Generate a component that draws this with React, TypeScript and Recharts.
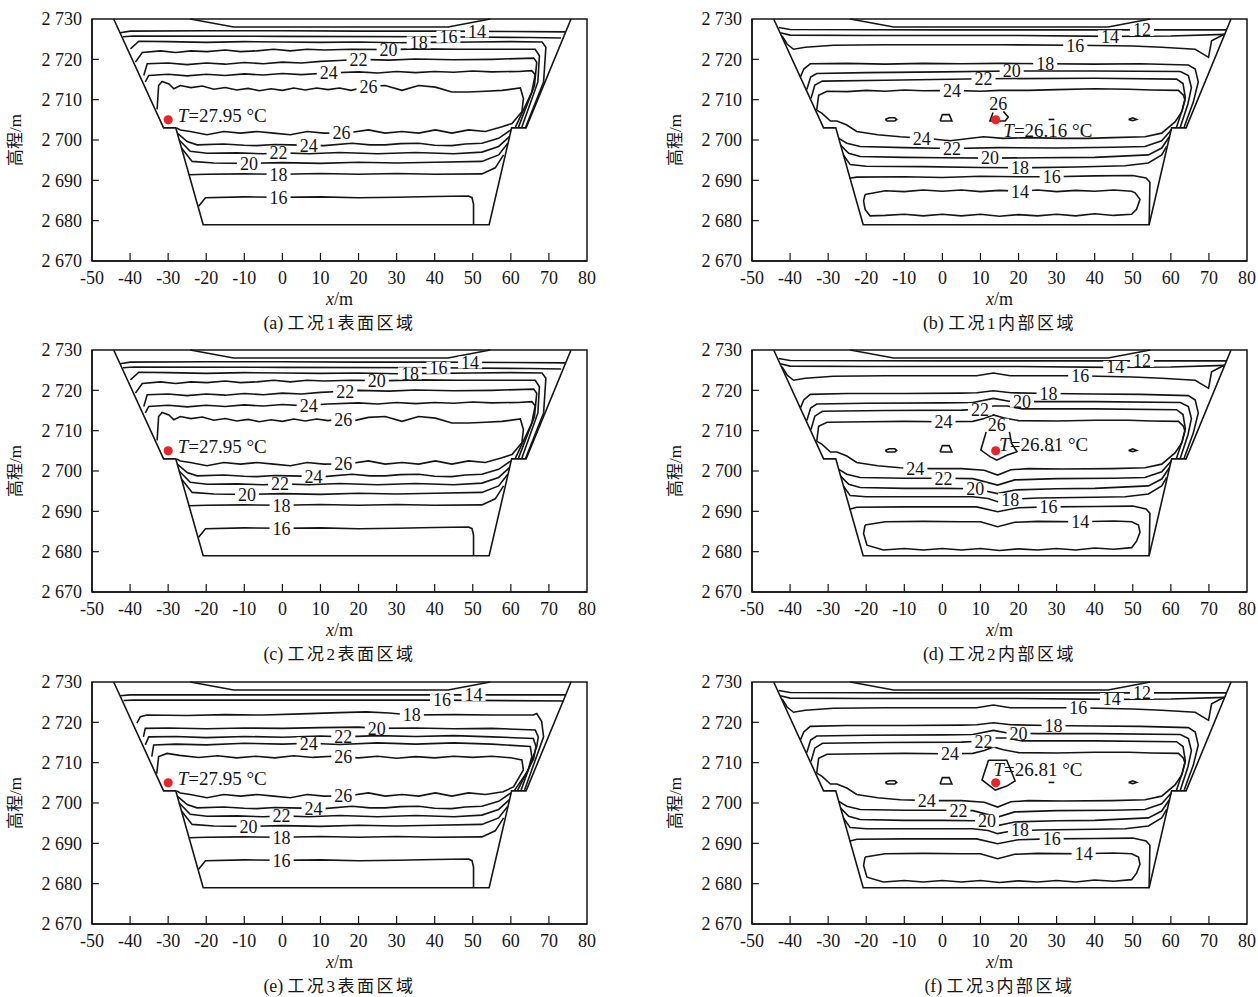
import { ScatterChart, Scatter, XAxis, YAxis, ReferenceArea, ReferenceLine } from "recharts"

type Pt = [number, number]
type Tag = { x: number; y: number; t: string }

const SERIF = '"Liberation Serif", "Times New Roman", serif'
const MIXED = '"Liberation Serif", "Noto Sans CJK SC", serif'
const INK = "#141414"

const X_TICKS = [-50, -40, -30, -20, -10, 0, 10, 20, 30, 40, 50, 60, 70, 80]
const Y_TICKS = [2670, 2680, 2690, 2700, 2710, 2720, 2730]

// dam section outline and the cold cap under the crest, same in every panel
const OUTLINE: Pt[] = [[-44.3, 2730], [-31.2, 2703], [-28, 2703], [-20.8, 2679], [54.3, 2679], [60.2, 2703], [64, 2703], [75.8, 2730]]
const CREST: Pt[] = [[-24.2, 2730], [-12.8, 2728], [43.5, 2728], [54.6, 2730]]

// surface region, cases 1 and 2 (a, c)
const S_14: Pt[] = [[-42.6, 2726.6], [-40, 2727.0], [-20, 2727.1], [0, 2727.1], [20, 2727.0], [40, 2727.0], [60, 2726.9], [74.4, 2726.8]]
const S_16: Pt[] = [[-41.9, 2725.6], [-39, 2725.8], [0, 2725.7], [40, 2725.6], [65, 2725.4], [73.2, 2725.3]]
const S_18: Pt[] = [[-39.9, 2722.6], [-37.7, 2724.5], [-30, 2724.4], [-20, 2724.2], [-10, 2724.4], [0, 2724.3], [10, 2724.2], [20, 2724.3], [30, 2724.1], [40, 2724.2], [50, 2724.3], [60, 2724.4], [68.2, 2724.3], [69.2, 2723], [68.6, 2714.4], [63.9, 2703.2]]
const S_20: Pt[] = [[-38.6, 2719.3], [-36.8, 2721.7], [-32, 2722.1], [-28, 2721.7], [-24, 2722.1], [-19.8, 2721.9], [-15, 2722.3], [-11, 2721.9], [-6.7, 2722.1], [-2.3, 2722.5], [2.1, 2722.1], [6.5, 2722.5], [11, 2722.3], [18, 2722.5], [28, 2722.4], [36, 2722.6], [46, 2722.5], [56, 2722.5], [66.4, 2722.5], [67.5, 2720.9], [67.1, 2714.4], [62.9, 2703.2]]
const S_22: Pt[] = [[-36.4, 2716], [-35.5, 2718.9], [-30, 2719.1], [-25, 2718.7], [-20, 2719.1], [-15, 2718.8], [-10, 2719.2], [-5, 2718.9], [0, 2719.3], [5, 2719.1], [10, 2719.5], [15, 2719.7], [20, 2720.0], [28, 2719.8], [35, 2720.1], [45, 2719.9], [55, 2720.0], [66, 2720.3], [66.8, 2719.3], [66.2, 2713.5], [62, 2703.2]]
const S_24: Pt[] = [[-36, 2714.4], [-35.1, 2716], [-30, 2716.3], [-25, 2715.9], [-20, 2716.3], [-15, 2716], [-10, 2716.4], [-5, 2716.1], [0, 2716.5], [5, 2716.2], [12, 2716.6], [20, 2716.9], [25, 2716.6], [30, 2717.0], [35, 2716.7], [40, 2717.0], [45, 2716.8], [50, 2717.1], [55, 2716.9], [62, 2717], [65.5, 2717.2], [66.4, 2716.2], [65.5, 2711.9], [61.2, 2703.2]]
const S_26_TOP: Pt[] = [[-32.9, 2707.6], [-32.5, 2713.5], [-31.6, 2714.5], [-29.8, 2713.9], [-28.5, 2712.7], [-26.8, 2713.5], [-24, 2713.0], [-21, 2713.4], [-18, 2712.6], [-15, 2713.0], [-12, 2712.4], [-9, 2712.8], [-6, 2712.2], [-3, 2712.7], [0, 2712.3], [3, 2712.9], [6, 2712.4], [9, 2712.9], [12, 2712.5], [15, 2712.9], [18, 2712.3], [22.6, 2713.3], [27, 2713.5], [31.4, 2712.3], [35.8, 2713.5], [40.2, 2713.1], [44.5, 2711.9], [48.9, 2711.9], [53.3, 2712.1], [57.7, 2712.3], [62.5, 2712.9], [63.3, 2710.3], [62.9, 2707], [60.3, 2704.1], [57.7, 2703.3]]
const S_26_BOT: Pt[] = [[53.3, 2702.1], [48.9, 2702.5], [44.5, 2701.7], [40.2, 2702.5], [35.8, 2701.7], [31.4, 2702.1], [27, 2701.7], [22.6, 2702.5], [17.4, 2701.8], [10.9, 2701.7], [6.5, 2702.1], [2.1, 2701.3], [-2.3, 2701.7], [-6.7, 2702.1], [-11, 2701.7], [-15.4, 2702.1], [-19.8, 2701.3], [-24.2, 2702.1], [-26.8, 2702.5], [-27.8, 2703.0]]
const S_B24: Pt[] = [[-27.6, 2701.7], [-25, 2699.6], [-22.4, 2698.8], [-15.4, 2699], [-10, 2698.7], [-6.7, 2698.6], [-2, 2698.9], [2.1, 2698.8], [10.9, 2698.6], [18.3, 2699.2], [23, 2698.8], [27, 2698.8], [31, 2699.1], [35.8, 2699.2], [40, 2698.7], [44.5, 2698.6], [48, 2699.0], [52.4, 2699.2], [56.8, 2700.4], [60.0, 2702.5]]
const S_B22: Pt[] = [[-27.1, 2700], [-24.2, 2697.2], [-19.8, 2696.7], [-12, 2696.8], [-5, 2696.6], [0, 2696.8], [7, 2696.6], [15, 2696.9], [25, 2696.6], [35, 2696.9], [45, 2696.6], [52.4, 2697], [56.8, 2698.4], [59.7, 2700.9]]
const S_B20: Pt[] = [[-26.5, 2698], [-23.7, 2694.7], [-18, 2694.3], [-10, 2694.2], [0, 2694.4], [10, 2694.2], [20, 2694.5], [30, 2694.3], [40, 2694.5], [52.4, 2694.7], [56.8, 2696.3], [59.2, 2699.2]]
const S_B18: Pt[] = [[-24.5, 2691.4], [-20, 2691.5], [-10, 2691.6], [0, 2691.5], [10, 2691.7], [20, 2691.5], [30, 2691.7], [40, 2691.5], [52.4, 2691.6], [55.9, 2693.1], [58.1, 2696.3]]
const S_B16: Pt[] = [[-22, 2683.6], [-20.2, 2685.7], [-10, 2685.9], [0, 2685.8], [10, 2685.9], [20, 2685.7], [30, 2685.8], [40, 2686], [48.9, 2686.1], [49.8, 2685.7], [50.2, 2684.1], [50.2, 2679.1]]

// surface region, case 3 (e): upper contours sit lower
const E_14: Pt[] = [[-42.6, 2726.6], [-40, 2726.8], [0, 2726.8], [40, 2726.8], [74.5, 2726.8]]
const E_16: Pt[] = [[-41.7, 2725.4], [-39, 2725.5], [0, 2725.5], [40, 2725.5], [73.9, 2725.3]]
const E_18: Pt[] = [[-38.2, 2719.8], [-37.3, 2721.4], [-35.6, 2721.8], [-25, 2721.7], [-15, 2721.9], [-5, 2721.8], [5, 2722.1], [15, 2722.4], [22, 2722.6], [28, 2722.3], [34, 2721.8], [45, 2721.9], [55, 2721.8], [65.9, 2721.8], [66.8, 2722.2], [68.1, 2720.2], [68.6, 2716.4], [63.6, 2703.2]]
const E_20: Pt[] = [[-36.5, 2716.4], [-36, 2718.5], [-30, 2718.6], [-20, 2718.4], [-10, 2718.6], [0, 2718.5], [10, 2718.7], [20, 2718.8], [25, 2718.5], [35, 2718.6], [45, 2718.4], [55, 2718.5], [66.4, 2718.1], [67.2, 2716.4], [66.8, 2714], [62.7, 2703.2]]
const E_22: Pt[] = [[-36, 2714.4], [-35.1, 2716.4], [-28, 2716.5], [-20, 2716.2], [-10, 2716.5], [0, 2716.3], [10, 2716.6], [16, 2716.4], [25, 2716.7], [35, 2716.5], [45, 2716.7], [55, 2716.4], [65.9, 2716], [66.6, 2714], [66, 2711], [61.8, 2703.2]]
const E_24: Pt[] = [[-34.3, 2711.5], [-33.8, 2714.4], [-28, 2714.6], [-20, 2714.4], [-10, 2714.8], [0, 2714.6], [6.9, 2714.8], [15, 2714.5], [25, 2714.9], [35, 2714.6], [45, 2714.9], [55, 2714.6], [65.1, 2714], [65.5, 2711.5], [64.5, 2708], [61, 2703.2]]
const E_26_TOP: Pt[] = [[-33, 2707.3], [-32.5, 2711.5], [-30.3, 2712.3], [-27, 2711.8], [-22, 2711.3], [-17, 2711.7], [-12, 2711.2], [-7, 2711.6], [-2, 2711.2], [3, 2711.7], [8, 2711.3], [13, 2711.6], [20, 2711.2], [25, 2711.6], [30, 2711.1], [35, 2711.5], [40, 2711.2], [45, 2711.6], [50, 2711.3], [55, 2711.6], [60, 2711.2], [62.9, 2710.7], [63.3, 2708.2], [60.7, 2704], [58, 2702.8]]

// interior region, case 1 (b)
const I_12: Pt[] = [[-43, 2727.9], [-40, 2727.4], [0, 2727.3], [40, 2727.3], [74.6, 2727.3]]
const I_14: Pt[] = [[-42.6, 2726.6], [-40, 2726], [-20, 2725.9], [0, 2725.9], [20, 2725.9], [44, 2725.7], [60, 2725.8], [74.2, 2726.2]]
const I_16: Pt[] = [[-42.1, 2725.8], [-41.3, 2724.6], [-40.8, 2723.8], [-39.1, 2722.5], [-36, 2723], [-28.6, 2723.5], [-15, 2723.6], [0, 2723.6], [15, 2723.6], [35, 2723.5], [50, 2723.3], [57.6, 2723], [66.4, 2722.5], [69.9, 2720.5], [70.7, 2724.6], [74, 2726.2]]
const I_18: Pt[] = [[-37.3, 2715.6], [-36.4, 2717.6], [-34.7, 2718.9], [-25, 2719], [-15, 2718.8], [-5, 2719], [5, 2718.9], [15, 2719], [27, 2718.9], [40, 2718.8], [52, 2718.9], [64.6, 2718.6], [66.4, 2717.6], [67.2, 2714.4], [65.9, 2709.4], [63.5, 2703.2]]
const I_20: Pt[] = [[-35.6, 2712.5], [-34.6, 2715.6], [-33, 2716.5], [-20, 2716.7], [0, 2716.9], [18, 2717.1], [40, 2717.1], [62.5, 2717], [64.6, 2716], [65.4, 2713], [64.5, 2709], [62.5, 2703.2]]
const I_22: Pt[] = [[-34.5, 2710.3], [-33.5, 2713.6], [-31.5, 2714.6], [-15, 2714.8], [10.8, 2715.2], [40, 2715.3], [61.5, 2715.1], [63.2, 2714], [63.8, 2710.5], [63, 2707.5], [61.5, 2703.2]]
const I_24: Pt[] = [[-33, 2707.4], [-32.5, 2711.1], [-30.3, 2712.1], [-25, 2712.0], [-20, 2712.3], [-15, 2712.1], [-10, 2712.4], [-5, 2712.2], [2.5, 2712.3], [10, 2712.1], [15, 2712.3], [22.6, 2712.3], [30, 2712.5], [40.1, 2712.7], [48.9, 2712.6], [55, 2712.4], [62, 2712.3], [63.3, 2711.1], [63.7, 2709.9], [62.9, 2707], [61.1, 2704.5], [57.6, 2701.7], [53.2, 2700.8], [44.5, 2700.6], [38, 2700.4], [31.4, 2700.4], [22.6, 2700.6], [16, 2700.4], [10.8, 2700.8], [2, 2699.8], [-3.2, 2700.3], [-11.1, 2700.8], [-17, 2701.3], [-22.5, 2702.1], [-25.1, 2703.7], [-27.7, 2704.7], [-29.4, 2704.7], [-31.6, 2706.6], [-33, 2707.4]]
const I_B22: Pt[] = [[-27.2, 2700.4], [-25.1, 2699.2], [-21.6, 2698.4], [-10, 2698.1], [2.5, 2697.9], [15, 2698.1], [30, 2698.0], [45, 2698.2], [53.2, 2698.4], [57.6, 2699.8], [60.1, 2702.5]]
const I_B20: Pt[] = [[-26.8, 2698.8], [-24.6, 2696.7], [-21.6, 2695.9], [-10, 2695.7], [0, 2695.6], [12.5, 2695.5], [25, 2695.6], [40, 2695.7], [54.1, 2696.3], [57.6, 2698], [59.6, 2700.8]]
const I_B18: Pt[] = [[-26, 2696.3], [-24.2, 2693.9], [-20, 2693.5], [-5, 2693.4], [10, 2693.2], [20.4, 2693.1], [35, 2693.3], [48, 2693.6], [54.1, 2694.3], [57.6, 2696.3], [58.9, 2698.4]]
const I_B16: Pt[] = [[-24.4, 2690.5], [-22.5, 2690.8], [-10, 2690.9], [0, 2690.7], [10, 2691], [20, 2690.9], [28.7, 2690.9], [40, 2691.1], [50, 2691.2], [53.5, 2690.6], [54.5, 2689.5], [54.3, 2679.1]]
const I_14L: Pt[] = [[-20.3, 2686.5], [-15, 2687.4], [-10, 2687.2], [-5, 2687.6], [0, 2687.3], [5, 2687.6], [10, 2687.2], [15, 2687.5], [20.4, 2687.3], [25, 2687.6], [30, 2687.2], [35, 2687.5], [40, 2687.3], [45, 2687.6], [49.7, 2687.3], [50.6, 2686.9], [51.9, 2685.3], [51, 2682.8], [49.7, 2681.6], [45, 2681.3], [40, 2681.7], [35, 2681.2], [30, 2681.6], [25, 2681.2], [20, 2681.5], [15, 2681.1], [10, 2681.6], [5, 2681.2], [0, 2681.6], [-5, 2681.2], [-10, 2681.6], [-15, 2681.3], [-19, 2681.2], [-20.3, 2682.8], [-20.7, 2684.9], [-20.3, 2686.5]]

// small 26 islands along the 2 705 m layer
const ISL_1: Pt[] = [[-15, 2705.1], [-14, 2705.5], [-12.5, 2705.5], [-12, 2705.1], [-12.5, 2704.7], [-14.5, 2704.7], [-15, 2705.1]]
const ISL_2: Pt[] = [[-0.6, 2704.7], [0, 2706.3], [1.8, 2706.3], [2.5, 2704.7], [-0.6, 2704.7]]
const ISL_4: Pt[] = [[27.9, 2705.1], [29.4, 2705.1]]
const ISL_5: Pt[] = [[48.9, 2705.1], [50, 2705.5], [51, 2705.1], [50, 2704.8], [48.9, 2705.1]]
const HOT_B: Pt[] = [[13.3, 2706.8], [12.5, 2704.7], [16.5, 2704.7], [17.3, 2705.7], [16, 2707.1]]
const HOT_D: Pt[] = [[11.5, 2709.7], [10.1, 2705.2], [12.6, 2703.5], [14.3, 2702.7], [16.9, 2703.9], [19.6, 2704.8], [18.2, 2706.8], [17.6, 2709.7]]
const HOT_F: Pt[] = [[12.1, 2710.6], [10.4, 2705.7], [13.9, 2703.2], [16.9, 2704.2], [19.1, 2705.5], [16.9, 2710.6], [12.1, 2710.6]]

// interior region, cases 2 and 3 (d, f): contours pushed out around x = 14 m
const H_16: Pt[] = [[-42.1, 2725.8], [-41.3, 2724.6], [-40.8, 2723.8], [-39.1, 2722.5], [-36, 2723], [-28.6, 2723.5], [-15, 2723.6], [0, 2723.6], [9, 2723.6], [13.4, 2724.3], [17.8, 2723.6], [35, 2723.6], [50, 2723.3], [57.6, 2723], [66.4, 2722.5], [69.9, 2720.5], [70.7, 2724.6], [74, 2726.2]]
const H_18: Pt[] = [[-37.3, 2715.6], [-36.4, 2717.6], [-34.7, 2719], [-25, 2719.2], [-10, 2719.2], [5, 2719.3], [9, 2719.4], [13.4, 2719.9], [18, 2719.4], [27.9, 2719.2], [40, 2719.1], [52, 2719.0], [64.6, 2718.7], [66.4, 2717.6], [67.2, 2714.4], [65.9, 2709.4], [63.5, 2703.2]]
const H_20: Pt[] = [[-35.6, 2712.5], [-34.6, 2715.6], [-33, 2716.6], [-20, 2716.8], [0, 2716.9], [8, 2717.0], [13.4, 2718.0], [17.5, 2717.3], [25, 2717.2], [40, 2717.2], [62.5, 2717], [64.6, 2716], [65.4, 2713], [64.5, 2709], [62.5, 2703.2]]
const H_22: Pt[] = [[-34.5, 2710.3], [-33.5, 2713.6], [-31.5, 2714.8], [-15, 2715.0], [5, 2715.1], [10, 2715.3], [13.4, 2716.1], [17, 2716.1], [21, 2715.4], [40, 2715.4], [61.5, 2715.2], [63.2, 2714], [63.8, 2710.5], [63, 2707.5], [61.5, 2703.2]]
const H_24: Pt[] = [[-33, 2707.4], [-32.5, 2711.1], [-30.3, 2712.1], [-20, 2712.2], [-10, 2712.3], [0.3, 2712.2], [8, 2712.3], [11, 2713], [13.4, 2713.9], [16, 2713.2], [20, 2712.5], [30, 2712.4], [40.1, 2712.6], [48.9, 2712.6], [55, 2712.4], [62, 2712.3], [63.3, 2711.1], [63.7, 2709.9], [62.9, 2707], [61.1, 2704.5], [57.6, 2701.7], [53.2, 2700.8], [44.5, 2700.6], [31.4, 2700.5], [22.6, 2700.6], [18, 2700.3], [14.5, 2699], [11, 2700.2], [5, 2700.6], [-3, 2700.6], [-11.1, 2700.8], [-17, 2701.3], [-22.5, 2702.1], [-25.1, 2703.7], [-27.7, 2704.7], [-29.4, 2704.7], [-31.6, 2706.6], [-33, 2707.4]]
const H_B22: Pt[] = [[-27.2, 2700.4], [-25.1, 2699.2], [-21.6, 2698.4], [-10, 2698.2], [0.3, 2698.2], [8, 2698.1], [14.5, 2696.5], [19, 2697.8], [30, 2698.1], [45, 2698.2], [53.2, 2698.4], [57.6, 2699.8], [60.1, 2702.5]]
const H_B20: Pt[] = [[-26.8, 2698.8], [-24.6, 2696.7], [-21.6, 2695.9], [-10, 2695.7], [0, 2695.7], [8.6, 2695.6], [14.5, 2694.4], [19, 2695.3], [30, 2695.6], [40, 2695.7], [54.1, 2696.3], [57.6, 2698], [59.6, 2700.8]]
const H_B18: Pt[] = [[-26, 2696.3], [-24.2, 2693.9], [-20, 2693.6], [-5, 2693.6], [8, 2693.6], [12, 2693.2], [14.5, 2692.4], [17.8, 2693.0], [25, 2693.3], [40, 2693.5], [48, 2693.6], [54.1, 2694.3], [57.6, 2696.3], [58.9, 2698.4]]
const H_B16: Pt[] = [[-24.4, 2690.5], [-22.5, 2691], [-10, 2691.1], [0, 2691.1], [9, 2691.1], [14.5, 2689.9], [20, 2690.9], [27.9, 2691.1], [40, 2691.2], [50, 2691.3], [53.5, 2690.6], [54.5, 2689.5], [54.3, 2679.1]]
const H_14L: Pt[] = [[-20.3, 2686.6], [-15, 2687.4], [-5, 2687.5], [5, 2687.4], [10, 2687.4], [14.5, 2686.2], [19, 2687.3], [25, 2687.5], [36.2, 2687.4], [45, 2687.6], [49.7, 2687.4], [51.5, 2686.6], [51.9, 2684.8], [51, 2682.6], [49.7, 2681.0], [45, 2680.6], [40, 2680.9], [35, 2680.4], [30, 2680.8], [25, 2680.4], [20, 2680.7], [15, 2680.3], [10, 2680.8], [5, 2680.4], [0, 2680.8], [-5, 2680.4], [-10, 2680.8], [-15.5, 2680.4], [-19.8, 2681.6], [-20.7, 2684.5], [-20.3, 2686.6]]

// contour labels per panel
const TAGS_A: Tag[] = [
  { x: 51.1, y: 2726.9, t: "14" }, { x: 43.6, y: 2725.6, t: "16" }, { x: 35.8, y: 2724.2, t: "18" },
  { x: 27.9, y: 2722.4, t: "20" }, { x: 20, y: 2720, t: "22" }, { x: 12.2, y: 2716.6, t: "24" },
  { x: 22.6, y: 2713.3, t: "26" }, { x: 15.5, y: 2701.8, t: "26" }, { x: 6.9, y: 2698.6, t: "24" },
  { x: -1, y: 2696.8, t: "22" }, { x: -8.8, y: 2694.2, t: "20" }, { x: -1, y: 2691.5, t: "18" },
  { x: -1, y: 2685.8, t: "16" },
]
const TAGS_C: Tag[] = [
  { x: 49.3, y: 2726.9, t: "14" }, { x: 41, y: 2725.6, t: "16" }, { x: 33.5, y: 2724.2, t: "18" },
  { x: 24.8, y: 2722.4, t: "20" }, { x: 16.5, y: 2719.7, t: "22" }, { x: 6.9, y: 2716.3, t: "24" },
  { x: 16, y: 2712.8, t: "26" }, { x: 16, y: 2701.8, t: "26" }, { x: 8.2, y: 2698.7, t: "24" },
  { x: -0.6, y: 2696.8, t: "22" }, { x: -9.3, y: 2694.2, t: "20" }, { x: -0.2, y: 2691.5, t: "18" },
  { x: -0.2, y: 2685.8, t: "16" },
]
const TAGS_E: Tag[] = [
  { x: 50.2, y: 2726.8, t: "14" }, { x: 41.9, y: 2725.5, t: "16" }, { x: 34, y: 2721.8, t: "18" },
  { x: 24.8, y: 2718.5, t: "20" }, { x: 16, y: 2716.5, t: "22" }, { x: 6.9, y: 2714.8, t: "24" },
  { x: 16, y: 2711.4, t: "26" }, { x: 16, y: 2701.8, t: "26" }, { x: 8.2, y: 2698.7, t: "24" },
  { x: -0.2, y: 2696.8, t: "22" }, { x: -8.9, y: 2694.2, t: "20" }, { x: -0.2, y: 2691.5, t: "18" },
  { x: -0.2, y: 2685.8, t: "16" },
]
const TAGS_B: Tag[] = [
  { x: 52.4, y: 2727.3, t: "12" }, { x: 44, y: 2725.7, t: "14" }, { x: 34.9, y: 2723.5, t: "16" },
  { x: 27, y: 2718.9, t: "18" }, { x: 18.2, y: 2717.1, t: "20" }, { x: 10.8, y: 2715.2, t: "22" },
  { x: 2.5, y: 2712.3, t: "24" }, { x: 14.7, y: 2709, t: "26" }, { x: -5.4, y: 2700.3, t: "24" },
  { x: 2.5, y: 2697.9, t: "22" }, { x: 12.5, y: 2695.5, t: "20" }, { x: 20.4, y: 2693.1, t: "18" },
  { x: 28.7, y: 2690.9, t: "16" }, { x: 20.4, y: 2687.3, t: "14" },
]
const TAGS_D: Tag[] = [
  { x: 52.4, y: 2727.3, t: "12" }, { x: 45.4, y: 2725.8, t: "14" }, { x: 36.2, y: 2723.6, t: "16" },
  { x: 27.9, y: 2719.2, t: "18" }, { x: 20.9, y: 2717.2, t: "20" }, { x: 9.9, y: 2715.3, t: "22" },
  { x: 0.3, y: 2712.2, t: "24" }, { x: 14.3, y: 2711.5, t: "26" }, { x: -7.1, y: 2700.6, t: "24" },
  { x: 0.3, y: 2698.2, t: "22" }, { x: 8.6, y: 2695.6, t: "20" }, { x: 17.8, y: 2693.0, t: "18" },
  { x: 27.9, y: 2691.1, t: "16" }, { x: 36.2, y: 2687.4, t: "14" },
]
const TAGS_F: Tag[] = [
  { x: 52.4, y: 2727.3, t: "12" }, { x: 44.5, y: 2725.8, t: "14" }, { x: 35.7, y: 2723.6, t: "16" },
  { x: 29.2, y: 2719.2, t: "18" }, { x: 20, y: 2717.2, t: "20" }, { x: 10.8, y: 2715.3, t: "22" },
  { x: 2, y: 2712.2, t: "24" }, { x: -4.1, y: 2700.6, t: "24" }, { x: 4.2, y: 2698.2, t: "22" },
  { x: 11.7, y: 2695.6, t: "20" }, { x: 20.4, y: 2693.3, t: "18" }, { x: 28.7, y: 2691.1, t: "16" },
  { x: 37.1, y: 2687.5, t: "14" },
]

// hottest point and its note
const DOT_SURF: Pt = [-30, 2705]
const DOT_CORE: Pt = [14, 2705]
const NOTE_A: Tag = { x: -27.5, y: 2706, t: "T=27.95 °C" }
const NOTE_B: Tag = { x: 16, y: 2702.3, t: "T=26.16 °C" }
const NOTE_D: Tag = { x: 14.9, y: 2706.5, t: "T=26.81 °C" }
const NOTE_F: Tag = { x: 13.4, y: 2708.3, t: "T=26.81 °C" }

const SURF_LINES: Pt[][] = [OUTLINE, CREST, S_14, S_16, S_18, S_20, S_22, S_24, [...S_26_TOP, ...S_26_BOT], S_B24, S_B22, S_B20, S_B18, S_B16]
const SURF3_LINES: Pt[][] = [OUTLINE, CREST, E_14, E_16, E_18, E_20, E_22, E_24, [...E_26_TOP, ...S_26_BOT], S_B24, S_B22, S_B20, S_B18, S_B16]
const CORE1_LINES: Pt[][] = [OUTLINE, CREST, I_12, I_14, I_16, I_18, I_20, I_22, I_24, I_B22, I_B20, I_B18, I_B16, I_14L, ISL_1, ISL_2, HOT_B, ISL_4, ISL_5]
const CORE2_LINES: Pt[][] = [OUTLINE, CREST, I_12, I_14, H_16, H_18, H_20, H_22, H_24, H_B22, H_B20, H_B18, H_B16, H_14L, ISL_1, ISL_2, HOT_D, ISL_4, ISL_5]
const CORE3_LINES: Pt[][] = [OUTLINE, CREST, I_12, I_14, H_16, H_18, H_20, H_22, H_24, H_B22, H_B20, H_B18, H_B16, H_14L, ISL_1, ISL_2, HOT_F, ISL_4, ISL_5]

const W = 597
const H = 292
const COLS = [0, 660]
const ROWS = [8.5, 340, 672]

const PANELS = [
  { lines: SURF_LINES, tags: TAGS_A, dot: DOT_SURF, note: NOTE_A, tag: "(a)", caption: "工况1表面区域", col: 0, row: 0 },
  { lines: CORE1_LINES, tags: TAGS_B, dot: DOT_CORE, note: NOTE_B, tag: "(b)", caption: "工况1内部区域", col: 1, row: 0 },
  { lines: SURF_LINES, tags: TAGS_C, dot: DOT_SURF, note: NOTE_A, tag: "(c)", caption: "工况2表面区域", col: 0, row: 1 },
  { lines: CORE2_LINES, tags: TAGS_D, dot: DOT_CORE, note: NOTE_D, tag: "(d)", caption: "工况2内部区域", col: 1, row: 1 },
  { lines: SURF3_LINES, tags: TAGS_E, dot: DOT_SURF, note: NOTE_A, tag: "(e)", caption: "工况3表面区域", col: 0, row: 2 },
  { lines: CORE3_LINES, tags: TAGS_F, dot: DOT_CORE, note: NOTE_F, tag: "(f)", caption: "工况3内部区域", col: 1, row: 2 },
]

const toXY = (pts: Pt[]) => pts.map(([x, y]) => ({ x, y }))
const fmtY = (v: number) => `${Math.floor(v / 1000)} ${v % 1000}`

const NoDot = () => <g />

const ContourTag = (props: any) => {
  const { cx, cy, payload } = props
  const w = payload.t.length * 9 + 6
  return (
    <g>
      <rect x={cx - w / 2} y={cy - 6} width={w} height={12} fill="#fff" />
      <text x={cx} y={cy} dy="0.35em" textAnchor="middle" fontSize={18} fontFamily={SERIF} fill={INK}>
        {payload.t}
      </text>
    </g>
  )
}

const HotDot = (props: any) => <circle cx={props.cx} cy={props.cy} r={4.6} fill="#e8242a" />

const NoteText = (props: any) => {
  const { cx, cy, payload } = props
  return (
    <text x={cx} y={cy} dy="0.35em" fontSize={19} fontFamily={SERIF} fill={INK}>
      <tspan fontStyle="italic">{payload.t.slice(0, 1)}</tspan>
      {payload.t.slice(1)}
    </text>
  )
}

function Panel({ lines, tags, dot, note }: { lines: Pt[][]; tags: Tag[]; dot: Pt; note: Tag }) {
  return (
    <ScatterChart width={W} height={H} margin={{ top: 10, right: 10, bottom: 10, left: 32 }}>
      <XAxis
        type="number"
        dataKey="x"
        domain={[-50, 80]}
        ticks={X_TICKS}
        interval={0}
        height={30}
        tickSize={-8}
        tickMargin={18}
        axisLine={{ stroke: INK, strokeWidth: 1.5 }}
        tickLine={false}
        tick={{ fill: INK, fontSize: 18, fontFamily: SERIF }}
      />
      <YAxis
        type="number"
        dataKey="y"
        domain={[2670, 2730]}
        ticks={Y_TICKS}
        interval={0}
        width={60}
        tickSize={-7}
        tickMargin={17}
        tickFormatter={fmtY}
        axisLine={{ stroke: INK, strokeWidth: 1.5 }}
        tickLine={false}
        tick={{ fill: INK, fontSize: 18, fontFamily: SERIF }}
      />
      <ReferenceArea x1={-50} x2={80} y1={2670} y2={2730} fill="none" stroke={INK} strokeWidth={1.5} />
      {/* inward tick marks */}
      {X_TICKS.slice(1, -1).map((v) => (
        <ReferenceLine key={`xt${v}`} segment={[{ x: v, y: 2670 }, { x: v, y: 2672 }]} stroke={INK} strokeWidth={1.2} />
      ))}
      {Y_TICKS.slice(1, -1).map((v) => (
        <ReferenceLine key={`yt${v}`} segment={[{ x: -50, y: v }, { x: -48.2, y: v }]} stroke={INK} strokeWidth={1.2} />
      ))}
      {lines.map((pts, i) => (
        <Scatter
          key={i}
          data={toXY(pts)}
          line={{ stroke: INK, strokeWidth: 1.6 }}
          lineType="joint"
          shape={NoDot}
          isAnimationActive={false}
        />
      ))}
      <Scatter data={tags} shape={ContourTag} isAnimationActive={false} />
      <Scatter data={[{ x: dot[0], y: dot[1] }]} shape={HotDot} isAnimationActive={false} />
      <Scatter data={[note]} shape={NoteText} isAnimationActive={false} />
    </ScatterChart>
  )
}

export default function App() {
  return (
    <div style={{ position: "absolute", left: 0, top: 0, width: 1258, height: 997, background: "#fff", overflow: "hidden" }}>
      {PANELS.map((p, i) => {
        const left = COLS[p.col]
        const top = ROWS[p.row]
        const plotTop = top + 10
        const plotBottom = plotTop + 242
        const midX = left + 92 + 247.5
        return (
          <div key={i}>
            <div style={{ position: "absolute", left, top, width: W, height: H }}>
              <Panel lines={p.lines} tags={p.tags} dot={p.dot} note={p.note} />
            </div>
            <div
              style={{
                position: "absolute",
                left: left + 16,
                top: plotTop + 121,
                transform: "translate(-50%, -50%) rotate(-90deg)",
                whiteSpace: "nowrap",
                fontSize: 17,
                lineHeight: "20px",
                fontFamily: MIXED,
                color: INK,
              }}
            >
              高程/m
            </div>
            <div
              style={{
                position: "absolute",
                left: midX - 100,
                width: 200,
                top: plotBottom + 28,
                textAlign: "center",
                fontSize: 18,
                lineHeight: "20px",
                fontFamily: SERIF,
                color: INK,
              }}
            >
              <i>x</i>/m
            </div>
            <div
              style={{
                position: "absolute",
                left: midX - 150,
                width: 300,
                top: plotBottom + 52,
                textAlign: "center",
                fontSize: 17,
                lineHeight: "20px",
                fontFamily: MIXED,
                color: INK,
                whiteSpace: "nowrap",
              }}
            >
              <span style={{ fontSize: 18 }}>{p.tag}</span> <span style={{ letterSpacing: 2.5 }}>{p.caption}</span>
            </div>
          </div>
        )
      })}
    </div>
  )
}
